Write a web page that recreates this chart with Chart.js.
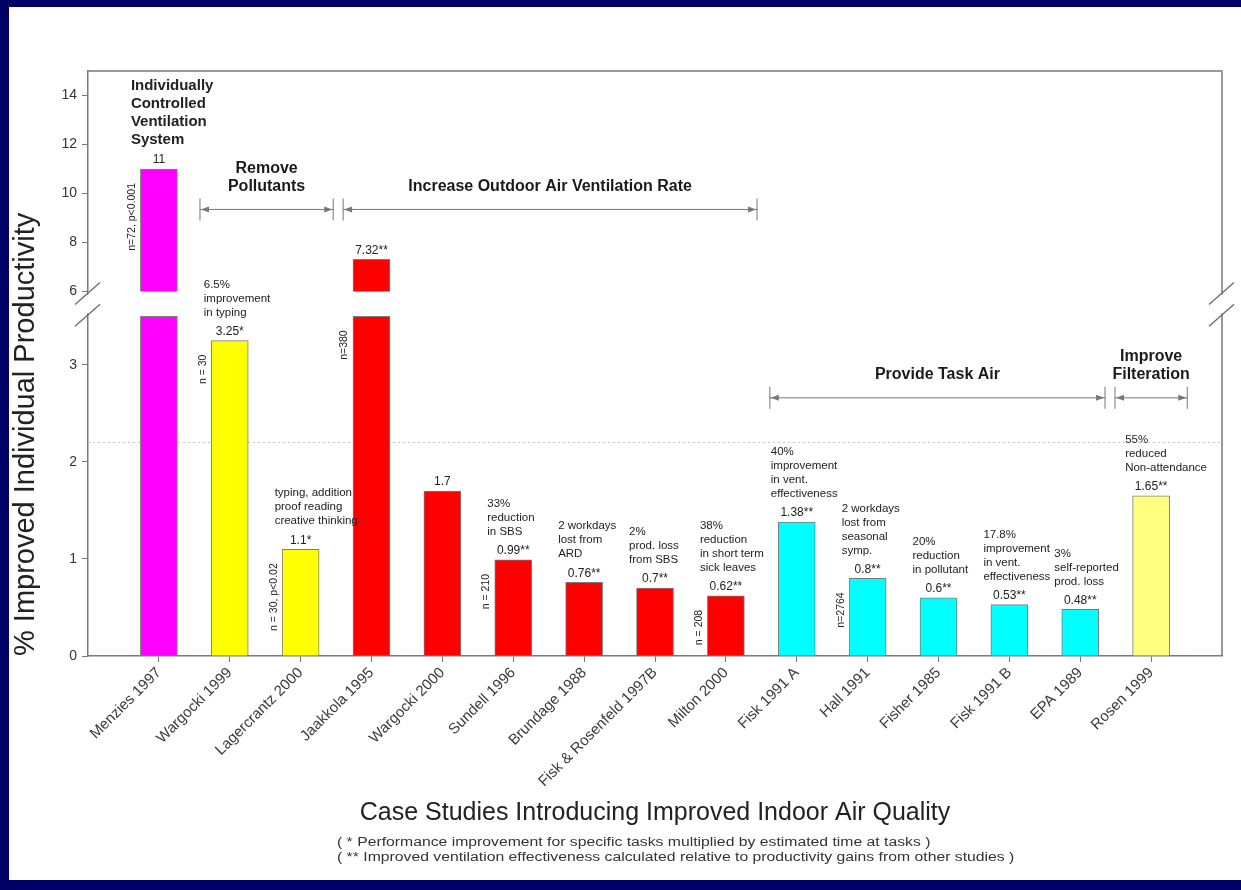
<!DOCTYPE html>
<html>
<head>
<meta charset="utf-8">
<title>Productivity gains from improved indoor air quality</title>
<script src="https://cdn.jsdelivr.net/npm/chart.js@4.4.1/dist/chart.umd.min.js"></script>
<style>
  html, body { margin: 0; padding: 0; background: #000066; overflow: hidden; }
  #panel { position: absolute; left: 9px; top: 7px; width: 1232px; height: 873px; background: #fff; }
  #chart { position: absolute; left: 0; top: 0; }
</style>
</head>
<body>
<div id="panel"></div>
<canvas id="chart" width="1241" height="890"></canvas>
<script>
// Case studies, in drawing order
var studies = ['Menzies 1997', 'Wargocki 1999', 'Lagercrantz 2000', 'Jaakkola 1995', 'Wargocki 2000',
               'Sundell 1996', 'Brundage 1988', 'Fisk & Rosenfeld 1997B', 'Milton 2000', 'Fisk 1991 A',
               'Hall 1991', 'Fisher 1985', 'Fisk 1991 B', 'EPA 1989', 'Rosen 1999'];

// % improved individual productivity
var gains = [11, 3.25, 1.1, 7.32, 1.7, 0.99, 0.76, 0.7, 0.62, 1.38, 0.8, 0.6, 0.53, 0.48, 1.65];

// footnote marks after each value
var valueMarks = ['', '*', '*', '**', '', '**', '**', '**', '**', '**', '**', '**', '**', '**', '**'];

var barColors = ['#ff00ff', '#ffff00', '#ffff00', '#ff0000', '#ff0000', '#ff0000', '#ff0000', '#ff0000',
                 '#ff0000', '#00ffff', '#00ffff', '#00ffff', '#00ffff', '#00ffff', '#ffff80'];

var sampleSizes = ['n=72, p<0.001', 'n = 30', 'n = 30, p<0.02', 'n=380', '', 'n = 210', '', '',
                   'n = 208', '', 'n=2764', '', '', '', ''];

var notes = [
  [],
  ['6.5%', 'improvement', 'in typing'],
  ['typing, addition', 'proof reading', 'creative thinking'],
  [],
  [],
  ['33%', 'reduction', 'in SBS'],
  ['2 workdays', 'lost from', 'ARD'],
  ['2%', 'prod. loss', 'from SBS'],
  ['38%', 'reduction', 'in short term', 'sick leaves'],
  ['40%', 'improvement', 'in vent.', 'effectiveness'],
  ['2 workdays', 'lost from', 'seasonal', 'symp.'],
  ['20%', 'reduction', 'in pollutant'],
  ['17.8%', 'improvement', 'in vent.', 'effectiveness'],
  ['3%', 'self-reported', 'prod. loss'],
  ['55%', 'reduced', 'Non-attendance']
];

var firstHeading = ['Individually', 'Controlled', 'Ventilation', 'System'];

// strategy brackets: span along the study axis and the height they sit at
var groupNames = [['Remove', 'Pollutants'], ['Increase Outdoor Air Ventilation Rate'],
                  ['Provide Task Air'], ['Improve', 'Filteration']];
var groupFrom = [1.58, 3.6, 9.62, 14.49];
var groupTo = [3.46, 9.44, 14.35, 15.51];
var groupLevel = [9.35, 9.35, 2.66, 2.66];

var lowTicks = [0, 1, 2, 3];
var highTicks = [6, 8, 10, 12, 14];
var refLine = 2.2;

var xTitle = 'Case Studies Introducing Improved Indoor Air Quality';
var yTitle = '% Improved Individual Productivity';
var footnotes = ['( * Performance improvement for specific tasks multiplied by estimated time at tasks )',
                 '( ** Improved ventilation effectiveness calculated relative to productivity gains from other studies )'];

// broken axis: 0..3.5 full scale, then 6..15 squeezed on top
var LOW_MAX = 3.5;
var HIGH_MIN = 6;
var HIGH_BASE = 3.755;
var HIGH_K = 0.2525;
function toAxis(v) { return v <= LOW_MAX ? v : HIGH_BASE + (v - HIGH_MIN) * HIGH_K; }

var FONT = '"Liberation Sans", Arial, sans-serif';
Chart.defaults.font.family = FONT;

var lowerBars = gains.map(function(v, i){ return {x: i + 1, y: Math.min(v, LOW_MAX)}; });
var upperBars = [];
gains.forEach(function(v, i){
  if (v > HIGH_MIN) upperBars.push({x: i + 1, y: [toAxis(HIGH_MIN), toAxis(v)]});
});
var yTickLabels = lowTicks.concat(highTicks);

function barColor(c){ return c.raw ? barColors[c.raw.x - 1] : '#000'; }

// frame on top/right, axis break marks, footnotes
var frame = {
  id: 'frame',
  afterDraw: function(chart){
    var ctx = chart.ctx, a = chart.chartArea, ys = chart.scales.y;
    var yHigh = ys.getPixelForValue(toAxis(HIGH_MIN));
    var yLow = ys.getPixelForValue(LOW_MAX);
    ctx.save();
    ctx.strokeStyle = '#7a7a7a';
    ctx.lineWidth = 1.5;
    ctx.beginPath();
    ctx.moveTo(a.left, a.top); ctx.lineTo(a.right, a.top); ctx.lineTo(a.right, a.bottom);
    ctx.stroke();
    ctx.fillStyle = '#fff';
    [a.left, a.right].forEach(function(x){
      ctx.fillRect(x - 3, yHigh + 3, 6, yLow - yHigh - 6);
      ctx.strokeStyle = '#666';
      ctx.lineWidth = 1.2;
      [yHigh + 2, yLow - 1].forEach(function(y){
        ctx.beginPath();
        ctx.moveTo(x - 13, y + 11);
        ctx.lineTo(x + 12, y - 11);
        ctx.stroke();
      });
    });
    ctx.fillStyle = '#333';
    ctx.font = '12.5px ' + FONT;
    ctx.textAlign = 'left';
    ctx.textBaseline = 'middle';
    footnotes.forEach(function(t, k){
      ctx.save();
      ctx.translate(337, 843 + k * 15);
      ctx.scale(1.26, 1);
      ctx.fillText(t, 0, 0);
      ctx.restore();
    });
    ctx.restore();
  }
};

// value labels, notes, sample sizes and strategy brackets
var annotations = {
  id: 'annotations',
  afterDatasetsDraw: function(chart){
    var ctx = chart.ctx, xs = chart.scales.x, ys = chart.scales.y;
    ctx.save();
    ctx.fillStyle = '#222';
    ctx.textBaseline = 'middle';
    gains.forEach(function(v, i){
      var xc = xs.getPixelForValue(i + 1);
      var top = ys.getPixelForValue(toAxis(v));
      var labelY = top - 9;
      ctx.font = '12px ' + FONT;
      ctx.textAlign = 'center';
      ctx.fillText(v + valueMarks[i], xc, labelY);

      var lines = notes[i];
      ctx.font = '11.5px ' + FONT;
      ctx.textAlign = 'left';
      lines.forEach(function(t, k){
        ctx.fillText(t, xc - 26, labelY - 19 - (lines.length - 1 - k) * 14);
      });

      if (sampleSizes[i]) {
        var segTop = top;
        if (v > HIGH_MIN && ys.getPixelForValue(toAxis(HIGH_MIN)) - top < 80) {
          segTop = ys.getPixelForValue(LOW_MAX);
        }
        ctx.save();
        ctx.translate(xc - 27, segTop + 14);
        ctx.rotate(-Math.PI / 2);
        ctx.font = '10.5px ' + FONT;
        ctx.textAlign = 'right';
        ctx.fillText(sampleSizes[i], 0, 0);
        ctx.restore();
      }

      if (i === 0) {
        ctx.font = 'bold 15px ' + FONT;
        ctx.textAlign = 'left';
        firstHeading.forEach(function(t, k){
          ctx.fillText(t, xc - 28, labelY - 20 - (firstHeading.length - 1 - k) * 18);
        });
      }
    });

    groupNames.forEach(function(name, g){
      var x1 = xs.getPixelForValue(groupFrom[g]);
      var x2 = xs.getPixelForValue(groupTo[g]);
      var y = ys.getPixelForValue(toAxis(groupLevel[g]));
      ctx.strokeStyle = '#777';
      ctx.fillStyle = '#777';
      ctx.lineWidth = 1;
      ctx.beginPath();
      ctx.moveTo(x1, y); ctx.lineTo(x2, y);
      ctx.moveTo(x1, y - 11); ctx.lineTo(x1, y + 11);
      ctx.moveTo(x2, y - 11); ctx.lineTo(x2, y + 11);
      ctx.stroke();
      [[x1, 1], [x2, -1]].forEach(function(e){
        ctx.beginPath();
        ctx.moveTo(e[0] + e[1], y);
        ctx.lineTo(e[0] + e[1] * 9, y - 3);
        ctx.lineTo(e[0] + e[1] * 9, y + 3);
        ctx.closePath();
        ctx.fill();
      });
      ctx.fillStyle = '#1a1a1a';
      ctx.font = 'bold 16px ' + FONT;
      ctx.textAlign = 'center';
      name.forEach(function(t, k){
        ctx.fillText(t, (x1 + x2) / 2, y - 23 - (name.length - 1 - k) * 18);
      });
    });
    ctx.restore();
  }
};

new Chart(document.getElementById('chart'), {
  type: 'bar',
  data: {
    datasets: [{
      data: lowerBars,
      backgroundColor: barColor,
      borderColor: 'rgba(80,80,80,0.75)',
      borderWidth: 1,
      barThickness: 37,
      grouped: false
    }, {
      data: upperBars,
      backgroundColor: barColor,
      borderColor: 'rgba(80,80,80,0.75)',
      borderWidth: 1,
      barThickness: 37,
      grouped: false
    }, {
      type: 'line',
      data: [{x: 0, y: refLine}, {x: 16, y: refLine}],
      borderColor: '#c4c4c4',
      borderWidth: 1,
      borderDash: [2, 3],
      pointRadius: 0
    }]
  },
  options: {
    responsive: false,
    animation: false,
    layout: { padding: { left: 9, top: 71, right: 19, bottom: 62 } },
    plugins: { legend: { display: false }, tooltip: { enabled: false } },
    scales: {
      x: {
        type: 'linear',
        min: 0,
        max: 16,
        offset: false,
        afterBuildTicks: function(s){ s.ticks = studies.map(function(n, i){ return {value: i + 1}; }); },
        afterFit: function(s){ s.height = 890 - 62 - 656; },
        ticks: {
          autoSkip: false,
          minRotation: 45,
          maxRotation: 45,
          padding: 2,
          color: '#3a3a3a',
          font: { size: 15 },
          callback: function(v){ return studies[v - 1]; }
        },
        grid: { offset: false, drawOnChartArea: false, tickLength: 6, color: '#777' },
        border: { color: '#7a7a7a', width: 1.5 },
        title: { display: true, text: xTitle, color: '#222', font: { size: 25 }, padding: 0 }
      },
      y: {
        min: 0,
        max: toAxis(15),
        afterBuildTicks: function(s){ s.ticks = yTickLabels.map(function(v){ return {value: toAxis(v)}; }); },
        afterFit: function(s){ s.width = 88 - 9; },
        ticks: {
          padding: 5,
          color: '#333',
          font: { size: 14 },
          callback: function(v, i){ return yTickLabels[i]; }
        },
        grid: { drawOnChartArea: false, tickLength: 6, color: '#777' },
        border: { color: '#7a7a7a', width: 1.5 },
        title: { display: true, text: yTitle, align: 'start', color: '#222', font: { size: 29 }, padding: 0 }
      }
    }
  },
  plugins: [annotations, frame]
});
</script>
</body>
</html>
